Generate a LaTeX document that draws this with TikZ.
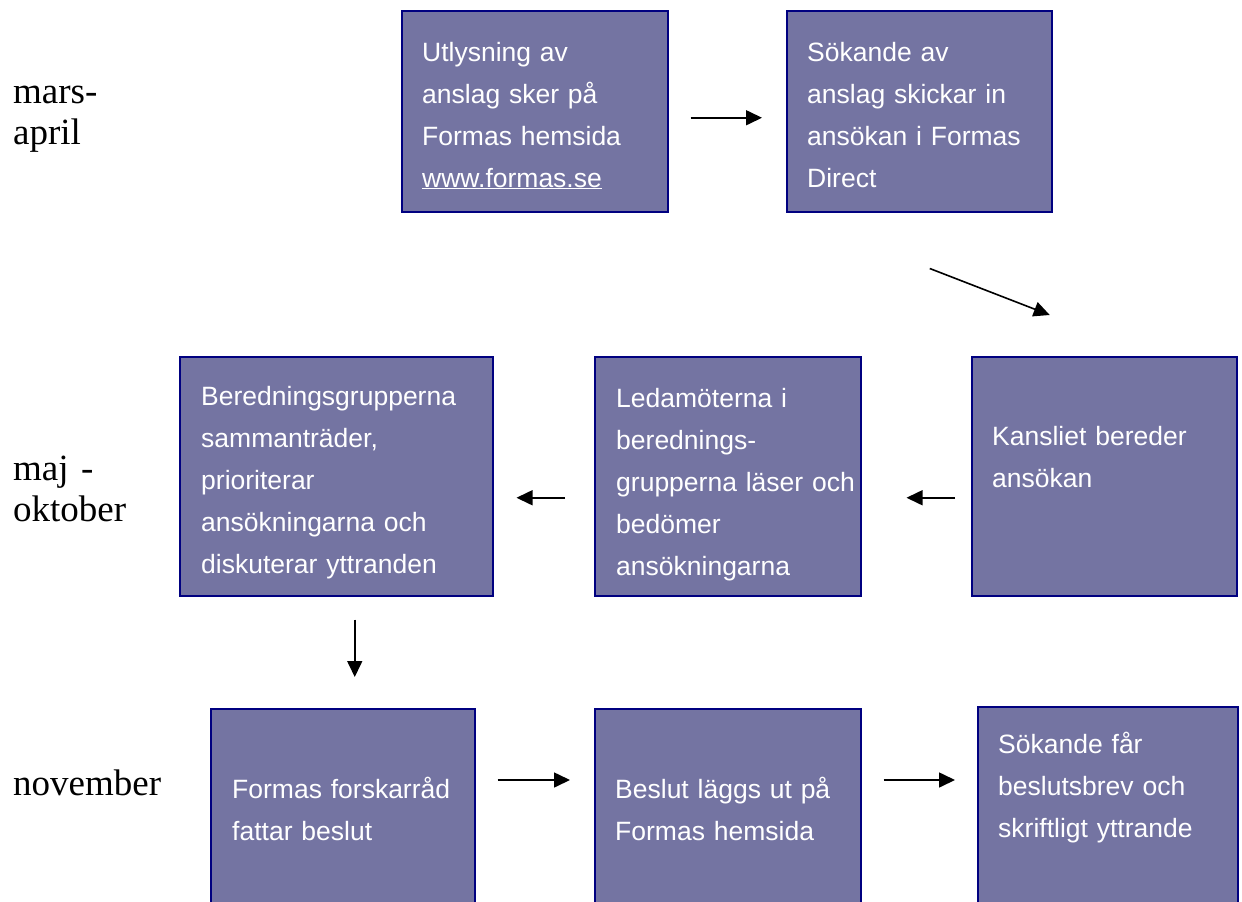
\documentclass[tikz,border=0pt]{standalone}
\usepackage{fontspec}
\setmainfont{Liberation Serif}
\newfontfamily\arialfont{Liberation Sans}
\usetikzlibrary{arrows.meta}
\definecolor{boxfill}{RGB}{116,116,162}
\definecolor{boxline}{RGB}{0,0,128}

\begin{document}
\begin{tikzpicture}[x=1pt,y=-1pt,
     box/.style = {draw=boxline, fill=boxfill, line width=1.5pt, rectangle, anchor=north west, inner sep=0pt},
     boxtext/.style = {anchor=base west, inner sep=0pt, text width=300pt, align=left, text=white,
      font=\arialfont\fontsize{26.5}{42}\selectfont},
     period/.style = {anchor=base west, inner sep=0pt, text width=150pt, align=left,
      font=\fontsize{37}{41}\selectfont},
     arrow/.style = {draw, -{Triangle[length=16pt,width=15pt]}, line width=1.6pt}
    ]
    \useasboundingbox (0,0) rectangle (1242,902);

    % periods
    \node [period] (mars) at (13,103) {mars-\\april};
    \node [period] (maj) at (13,480) {maj -\\oktober};
    \node [period] (nov) at (13,795) {november};

    % boxes
    \node [box, minimum width=266pt, minimum height=201pt] (utlys) at (401,10) {};
    \node [box, minimum width=265pt, minimum height=201pt] (sokande) at (786,10) {};
    \node [box, minimum width=265pt, minimum height=239pt] (kansli) at (971,356) {};
    \node [box, minimum width=266pt, minimum height=239pt] (ledam) at (594,356) {};
    \node [box, minimum width=313pt, minimum height=239pt] (bered) at (179,356) {};
    \node [box, minimum width=264pt, minimum height=230pt] (forsk) at (210,708) {};
    \node [box, minimum width=266pt, minimum height=230pt] (beslut) at (594,708) {};
    \node [box, minimum width=260pt, minimum height=230pt] (brev) at (977,706) {};

    % box texts
    \node [boxtext] (utlystxt) at ([shift={(21,51)}]utlys.north west)
      {Utlysning av\\anslag sker på\\Formas hemsida\\\underline{www.formas.se}};
    \node [boxtext] (sokandetxt) at ([shift={(21,51)}]sokande.north west)
      {Sökande av\\anslag skickar in\\ansökan i Formas\\Direct};
    \node [boxtext] (kanslitxt) at ([shift={(21,89)}]kansli.north west)
      {Kansliet bereder\\ansökan};
    \node [boxtext] (ledamtxt) at ([shift={(22,51)}]ledam.north west)
      {Ledamöterna i\\berednings-\\grupperna läser och\\bedömer\\ansökningarna};
    \node [boxtext] (beredtxt) at ([shift={(22,49)}]bered.north west)
      {Beredningsgrupperna\\sammanträder,\\prioriterar\\ansökningarna och\\diskuterar yttranden};
    \node [boxtext] (forsktxt) at ([shift={(22,90)}]forsk.north west)
      {Formas forskarråd\\fattar beslut};
    \node [boxtext] (beslututxt) at ([shift={(21,90)}]beslut.north west)
      {Beslut läggs ut på\\Formas hemsida};
    \node [boxtext] (brevtxt) at ([shift={(21,47)}]brev.north west)
      {Sökande får\\beslutsbrev och\\skriftligt yttrande};

    % arrows
    \draw [arrow] ([shift={(22,6.5)}]utlys.east) -- ([shift={(-24,6.5)}]sokande.west);
    \draw [arrow] ([shift={(10.5,56)}]sokande.south) -- ([shift={(-54.5,-41)}]kansli.north);
    \draw [arrow] ([shift={(-16,21.5)}]kansli.west) -- ([shift={(45,21.5)}]ledam.east);
    \draw [arrow] ([shift={(-29,21.5)}]ledam.west) -- ([shift={(23,21.5)}]bered.east);
    \draw [arrow] ([shift={(18.5,23)}]bered.south) -- ([shift={(12,-31)}]forsk.north);
    \draw [arrow] ([shift={(22,72)}]forsk.north east) -- ([shift={(-24,72)}]beslut.north west);
    \draw [arrow] ([shift={(22,72)}]beslut.north east) -- ([shift={(-22,74)}]brev.north west);
\end{tikzpicture}
\end{document}
